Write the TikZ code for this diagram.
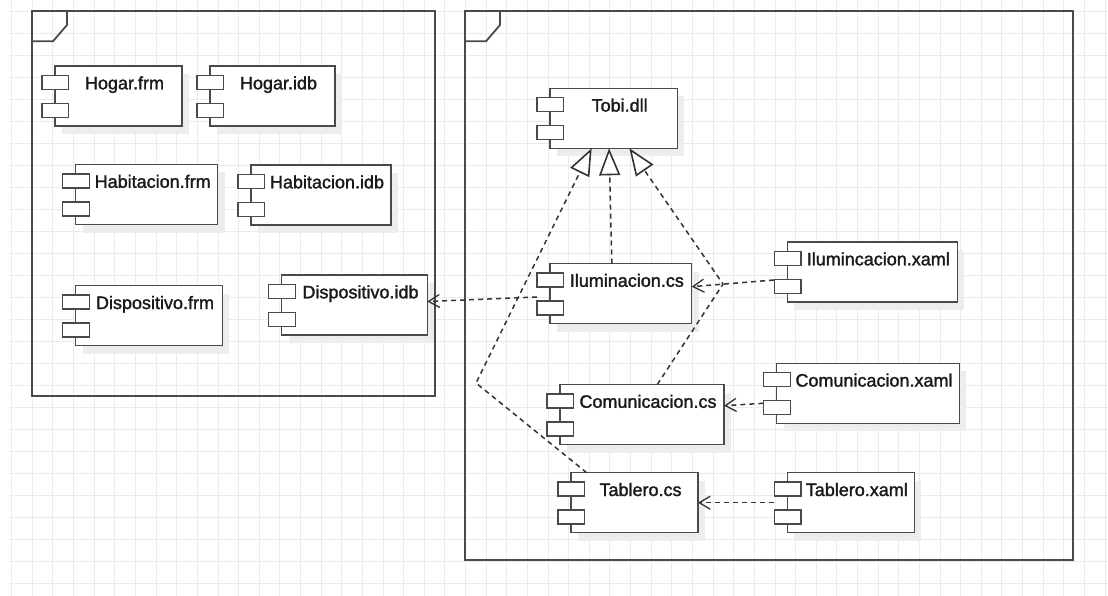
\documentclass[tikz,border=0pt]{standalone}
\usepackage{fontspec}
\setmainfont{Liberation Sans}
\newfontfamily\compfont[FakeBold=1.6]{Liberation Sans}
\usetikzlibrary{arrows.meta,calc}

\definecolor{ink}{HTML}{4A4A4A}
\definecolor{wire}{HTML}{333333}
\definecolor{textc}{HTML}{1A1A1A}
\definecolor{gridc}{HTML}{EBEBEB}
\definecolor{shade}{HTML}{EDEDED}

\tikzset{
  gridline/.style={draw=gridc, line width=1pt},
  pkg/.style={draw=ink, line width=1.8pt, rectangle, inner sep=0pt, outer sep=0pt},
  pkgtab/.style={draw=ink, line width=1.8pt, line join=miter},
  compshadow/.style={fill=shade},
  compbox/.style={draw=ink, fill=white, line width=1.5pt, rectangle, inner sep=0pt,
    outer sep=0pt, minimum height=60pt},
  port/.style={draw=ink, fill=white, line width=1.5pt},
  comptext/.style={font=\compfont\fontsize{18}{20}\selectfont, text=textc, inner sep=0pt, anchor=base},
  dep/.style={draw=wire, line width=1.5pt, dash pattern=on 5pt off 4pt,
    -{Straight Barb[length=11pt,width=13pt,line width=1.3pt]}},
  realize/.style={draw=wire, line width=1.5pt, dash pattern=on 5pt off 4pt,
    -{Triangle[fill=white,length=27pt,width=21pt,line width=1.6pt]}},
}

% component: name, left, top, right, caption
\newcommand\component[5]{%
  \fill[compshadow] ({#2+7},{#3+8}) rectangle ({#4+7},{#3+68});
  \node[compbox, minimum width={(#4-#2)*1pt},
        label={[comptext, xshift=6pt, yshift=-23.3pt]north:#5}]
        (#1) at ({(#2+#4)/2},{#3+30}) {};
  \draw[port] ($(#1.north west)+(-13,9.3)$) rectangle ++(26.7,14);
  \draw[port] ($(#1.north west)+(-13,37.3)$) rectangle ++(26.7,14);
}

\begin{document}
\begin{tikzpicture}[x=1pt,y=-1pt]
\useasboundingbox (0,0) rectangle (1108,596);
\fill[white] (0,0) rectangle (1108,596);

% background grid
\foreach \i in {0,...,53}
  \draw[gridline] ({11.7+20.63*\i},0) -- ++(0,596);
\foreach \j in {0,...,26}
  \draw[gridline] (9,{11.5+22*\j}) -- (1108,{11.5+22*\j});

% packages
\node[pkg, minimum width=403pt, minimum height=385pt] (pkgL) at (233.5,203.5) {};
\draw[pkgtab] ($(pkgL.north west)+(35,0)$) -- ($(pkgL.north west)+(35,14)$)
  -- ($(pkgL.north west)+(21,30.3)$) -- ($(pkgL.north west)+(0,30.3)$);
\node[pkg, minimum width=608pt, minimum height=549pt] (pkgR) at (769,285.5) {};
\draw[pkgtab] ($(pkgR.north west)+(35,0)$) -- ($(pkgR.north west)+(35,14)$)
  -- ($(pkgR.north west)+(21,30.3)$) -- ($(pkgR.north west)+(0,30.3)$);

% left package components
\component{hogarFrm}{55}{66}{182}{Hogar.frm}
\component{hogarIdb}{210}{66}{335}{Hogar.idb}
\component{habFrm}{75.7}{164.5}{217.7}{Habitacion.frm}
\component{habIdb}{251}{165}{391}{Habitacion.idb}
\component{dispFrm}{75.7}{285.7}{222.3}{Dispositivo.frm}
\component{dispIdb}{281.7}{275}{427.3}{Dispositivo.idb}

% right package components
\component{tobi}{550}{88.3}{677.3}{Tobi.dll}
\component{ilumCs}{550}{263.5}{691.7}{Iluminacion.cs}
\component{comCs}{560}{384.5}{724}{Comunicacion.cs}
\component{tabCs}{571}{472.7}{698}{Tablero.cs}
\component{ilumXaml}{787.3}{242}{957.3}{Ilumincacion.xaml}
\component{comXaml}{776.7}{363.3}{959.3}{Comunicacion.xaml}
\component{tabXaml}{787.3}{472.7}{914.3}{Tablero.xaml}

% bend points
\coordinate (bendTab) at (476,383);
\coordinate (bendCom) at (723,284);

% realizations of Tobi.dll
\draw[realize] ($(ilumCs.north)+(-9,0)$) -- ($(tobi.south)+(-4.6,0)$);
\draw[realize] ($(tabCs.north)+(-47.8,0)$) -- (bendTab) -- ($(tobi.south)+(-22,0)$);
\draw[realize] ($(comCs.north)+(15.3,0)$) -- (bendCom) -- ($(tobi.south)+(15.7,0)$);

% dependencies
\draw[dep] ($(ilumCs.west)+(-13,3.5)$) -- ($(dispIdb.east)+(0,-3.5)$);
\draw[dep] ($(ilumXaml.west)+(-13.3,8)$) -- ($(ilumCs.east)+(0,-6.8)$);
\draw[dep] ($(comXaml.west)+(-13.4,10)$) -- ($(comCs.east)+(0,-8.8)$);
\draw[dep] ($(tabXaml.west)+(-13.3,0)$) -- (tabCs.east);
\end{tikzpicture}
\end{document}
